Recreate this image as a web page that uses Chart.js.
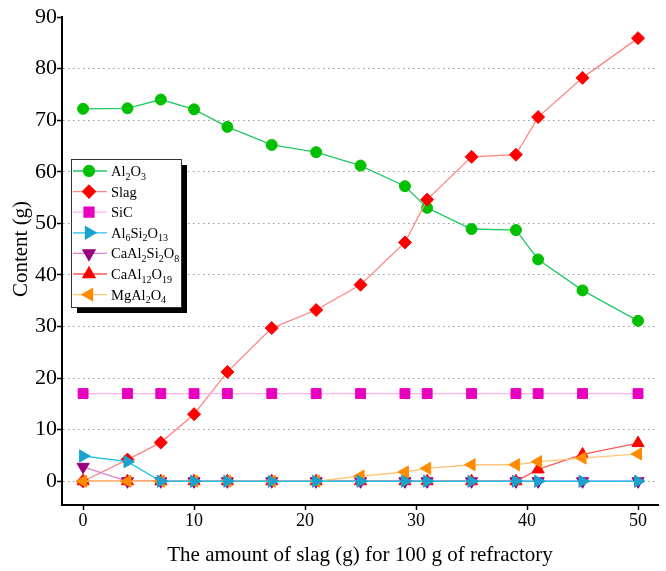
<!DOCTYPE html>
<html>
<head>
<meta charset="utf-8">
<script src="https://cdn.jsdelivr.net/npm/chart.js@4/dist/chart.umd.min.js"></script>
<style>
    body { margin: 0; background: #fff; }
    #wrap { width: 666px; height: 571px; }
</style>
</head>
<body>
<div id="wrap"><canvas id="phase-chart" width="666" height="571"></canvas></div>
<script>
// ================================
// Data
// ================================
const slagAmount = [0, 4, 7, 10, 13, 17, 21, 25, 29, 31, 35, 39, 41, 45, 50];

const al2o3Values = [72.2, 72.3, 74.0, 72.1, 68.7, 65.2, 63.8, 61.2, 57.2, 53.0, 48.9, 48.7, 43.0, 37.0, 31.1];
const slagValues = [0, 4.2, 7.5, 13.0, 21.2, 29.7, 33.2, 38.1, 46.3, 54.6, 62.9, 63.3, 70.6, 78.2, 85.9];
const sicValues = [17, 17, 17, 17, 17, 17, 17, 17, 17, 17, 17, 17, 17, 17, 17];
const al6si2o13Values = [4.9, 3.8, 0, 0, 0, 0, 0, 0, 0, 0, 0, 0, 0, 0, 0];
const caal2si2o8Values = [2.8, 0, 0, 0, 0, 0, 0, 0, 0, 0, 0, 0, 0, 0, 0];
const caal12o19Values = [0, 0, 0, 0, 0, 0, 0, 0, 0, 0, 0, 0, 2.3, 5.2, 7.4];
const mgal2o4Values = [0, 0, 0, 0, 0, 0, 0, 1.0, 1.8, 2.5, 3.2, 3.2, 3.8, 4.5, 5.3];

const seriesNames = ["Al2O3", "Slag", "SiC", "Al6Si2O13", "CaAl2Si2O8", "CaAl12O19", "MgAl2O4"];
const seriesValues = [al2o3Values, slagValues, sicValues, al6si2o13Values, caal2si2o8Values, caal12o19Values, mgal2o4Values];

const xTicks = [0, 10, 20, 30, 40, 50];
const yTicks = [0, 10, 20, 30, 40, 50, 60, 70, 80, 90];

const xTitle = "The amount of slag (g) for 100 g of refractory";
const yTitle = "Content (g)";

// ================================
// Styles
// ================================
const SERIF = '"Liberation Serif", "Times New Roman", serif';

const seriesStyles = [
    { marker: "#00C000", line: "#22C865", pointStyle: "circle", radius: 5.5, rotation: 0, order: 6 },
    { marker: "#FF0000", line: "#FF8585", pointStyle: "rectRot", radius: 6.5, rotation: 0, order: 5 },
    { marker: "#E800C0", line: "#FFB4EC", pointStyle: "rect", radius: 7, rotation: 0, order: 4 },
    { marker: "#1AA2CC", line: "#22C0EA", pointStyle: "triangle", radius: 7, rotation: 90, order: 0 },
    { marker: "#990080", line: "#D884D0", pointStyle: "triangle", radius: 7, rotation: 180, order: 3 },
    { marker: "#FF0000", line: "#FF5A5A", pointStyle: "triangle", radius: 7, rotation: 0, order: 2 },
    { marker: "#FF8C00", line: "#FFC47A", pointStyle: "triangle", radius: 7, rotation: 270, order: 1 },
];

// y title sits a bit above the axis middle in the original
const yTitlePlugin = {
    id: "yTitlePlugin",
    afterDraw(chart) {
        const ctx = chart.ctx;
        ctx.save();
        ctx.translate(21, 249);
        ctx.rotate(-Math.PI / 2);
        ctx.font = "21px " + SERIF;
        ctx.fillStyle = "#000";
        ctx.textAlign = "center";
        ctx.textBaseline = "middle";
        ctx.fillText(yTitle, 0, 0);
        ctx.restore();
    },
};

// legend with subscripted formulas and a drop shadow
const formulaLegend = {
    id: "formulaLegend",
    afterDraw(chart) {
        const ctx = chart.ctx;
        const box = { x: 71, y: 159, w: 110, h: 148 };
        ctx.save();
        ctx.fillStyle = "#000";
        ctx.fillRect(box.x + 6, box.y + 6, box.w, box.h);
        ctx.fillStyle = "#fff";
        ctx.fillRect(box.x, box.y, box.w, box.h);
        ctx.strokeStyle = "#333";
        ctx.lineWidth = 1;
        ctx.strokeRect(box.x + 0.5, box.y + 0.5, box.w, box.h);

        seriesNames.forEach((name, i) => {
            const st = seriesStyles[i];
            const cy = 171 + i * 20.6;
            ctx.strokeStyle = st.line;
            ctx.lineWidth = 1.3;
            ctx.beginPath();
            ctx.moveTo(73, cy);
            ctx.lineTo(107, cy);
            ctx.stroke();

            ctx.fillStyle = st.marker;
            ctx.strokeStyle = st.marker;
            Chart.helpers.drawPoint(ctx, {
                pointStyle: st.pointStyle,
                rotation: st.rotation,
                radius: st.radius,
                borderWidth: 1,
            }, 89, cy);

            // text: digits become subscripts
            let tx = 111;
            ctx.fillStyle = "#000";
            ctx.textBaseline = "alphabetic";
            (name.match(/[A-Za-z]+|\d+/g) || []).forEach((part) => {
                const isSub = /^\d/.test(part);
                ctx.font = (isSub ? "10px " : "14.5px ") + SERIF;
                ctx.fillText(part, tx, cy + 5 + (isSub ? 3.5 : 0));
                tx += ctx.measureText(part).width;
            });
        });
        ctx.restore();
    },
};

// ================================
// Chart
// ================================
function initializeChart() {
    const datasets = seriesNames.map((name, i) => {
        const st = seriesStyles[i];
        return {
            label: name,
            data: slagAmount.map((x, j) => ({ x: x, y: seriesValues[i][j] })),
            borderColor: st.line,
            borderWidth: 1.3,
            pointStyle: st.pointStyle,
            pointRotation: st.rotation,
            pointRadius: st.radius,
            pointBackgroundColor: st.marker,
            pointBorderColor: st.marker,
            pointBorderWidth: 1,
            tension: 0,
            order: st.order,
        };
    });

    const ctx = document.getElementById("phase-chart").getContext("2d");
    new Chart(ctx, {
        type: "line",
        data: { datasets: datasets },
        options: {
            responsive: false,
            animation: false,
            layout: { padding: { top: 17, left: 0, right: 0, bottom: 0 } },
            plugins: {
                legend: { display: false },
                tooltip: { enabled: false },
            },
            scales: {
                x: {
                    type: "linear",
                    min: -1.9,
                    max: 51.8,
                    afterBuildTicks: (scale) => { scale.ticks = xTicks.map((v) => ({ value: v })); },
                    afterFit: (scale) => { scale.height = 66; },
                    ticks: {
                        font: { family: SERIF, size: 18 },
                        color: "#000",
                        padding: 0,
                        maxRotation: 0,
                    },
                    grid: {
                        drawOnChartArea: false,
                        drawTicks: true,
                        tickLength: 5,
                        tickColor: "#000",
                        tickWidth: 1.5,
                    },
                    border: { color: "#000", width: 2 },
                    title: {
                        display: true,
                        text: xTitle,
                        font: { family: SERIF, size: 21 },
                        color: "#000",
                        padding: { top: 0, bottom: 3 },
                    },
                },
                y: {
                    type: "linear",
                    min: -4.6,
                    max: 90,
                    afterBuildTicks: (scale) => { scale.ticks = yTicks.map((v) => ({ value: v })); },
                    afterFit: (scale) => { scale.width = 62; },
                    ticks: {
                        font: { family: SERIF, size: 22 },
                        color: "#000",
                        padding: 0,
                    },
                    grid: {
                        color: (c) => (c.tick && c.tick.value === 90 ? "rgba(0,0,0,0)" : "#9a9a9a"),
                        lineWidth: 1,
                        drawTicks: true,
                        tickLength: 5,
                        tickColor: "#000",
                        tickWidth: 1.5,
                        tickBorderDash: [],
                    },
                    border: { color: "#000", width: 2, dash: [1.5, 3.5] },
                    title: { display: false },
                },
            },
        },
        plugins: [formulaLegend, yTitlePlugin],
    });
}

initializeChart();
</script>
</body>
</html>
